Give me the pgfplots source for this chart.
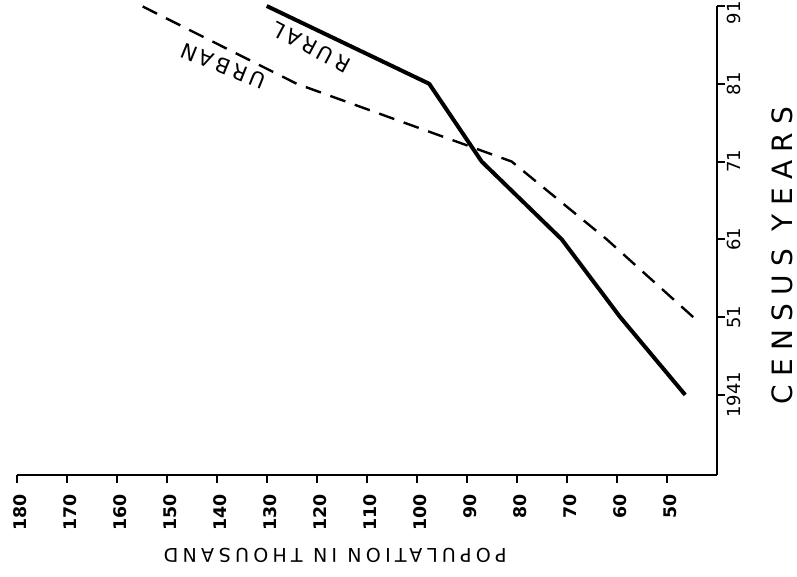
\documentclass[border=0pt]{standalone}
\usepackage{pgfplots}
\pgfplotsset{compat=1.18}
\usepackage{fontspec}
\setmainfont{DejaVu Sans}
\newfontfamily\spaced[LetterSpace=18]{DejaVu Sans}
\newfontfamily\spacedA[LetterSpace=22.5]{DejaVu Sans}
\newfontfamily\spacedB[LetterSpace=30]{DejaVu Sans}
\usetikzlibrary{calc}
\begin{document}
\begin{tikzpicture}
\begin{axis}[
  name=ax,
  at={(0,0)}, anchor=south west,
  scale only axis,
  width=350pt, height=234.5pt,
  x dir=reverse,
  xmin=40, xmax=180,
  ymin=1930.7, ymax=1991,
  axis x line=bottom, axis y line=right,
  axis line style={line width=1pt, -},
  tick style={line width=1pt, black},
  tick align=outside,
  major tick length=4pt,
  xtick={50,60,...,180},
  xticklabels={50,60,70,80,90,100,110,120,130,140,150,160,170,180},
  ytick={1941,1951,1961,1971,1981},
  yticklabels={1941,51,61,71,81},
  extra y ticks={1991},
  extra y tick labels={91},
  extra y tick style={yticklabel style={xshift=-3.5pt}},
  x tick label style={rotate=90, anchor=east, font=\bfseries\fontsize{8.7}{8.7}\selectfont, inner sep=0pt, xshift=-5.5pt, yshift=-1.5pt},
  y tick label style={rotate=90, anchor=north, font=\fontsize{9}{9}\selectfont, inner sep=0pt, yshift=-1.25pt},
  clip=false,
]
\addplot[black, line width=2pt, line join=round] coordinates {(46.3,1941) (59.3,1951) (71,1961) (87,1971) (97.5,1981) (130,1991)};
\addplot[black, line width=1.2pt, dash pattern=on 8pt off 5pt] coordinates {(44.7,1951) (62,1961) (81,1971) (124,1981) (155,1991)};
\node[rotate=158, font=\spaced\fontsize{10.5}{10.5}\selectfont] at (axis cs:138.7,1983.3) {URBAN};
\node[rotate=152, font=\spaced\fontsize{10.5}{10.5}\selectfont] at (axis cs:121.1,1985.7) {RURAL};
\node[rotate=90, font=\spacedB\fontsize{14}{14}\selectfont] at (axis cs:26.9,1958.9) {CENSUS YEARS};
\node[rotate=180, font=\spacedA\fontsize{9.5}{9.5}\selectfont] at (axis cs:116.3,1920.4) {POPULATION IN THOUSAND};
\end{axis}
\pgfresetboundingbox
\path[use as bounding box] ($(ax.south west)+(-8.35pt,-51pt)$) rectangle ($(ax.north east)+(40.15pt,3pt)$);
\end{tikzpicture}
\end{document}
